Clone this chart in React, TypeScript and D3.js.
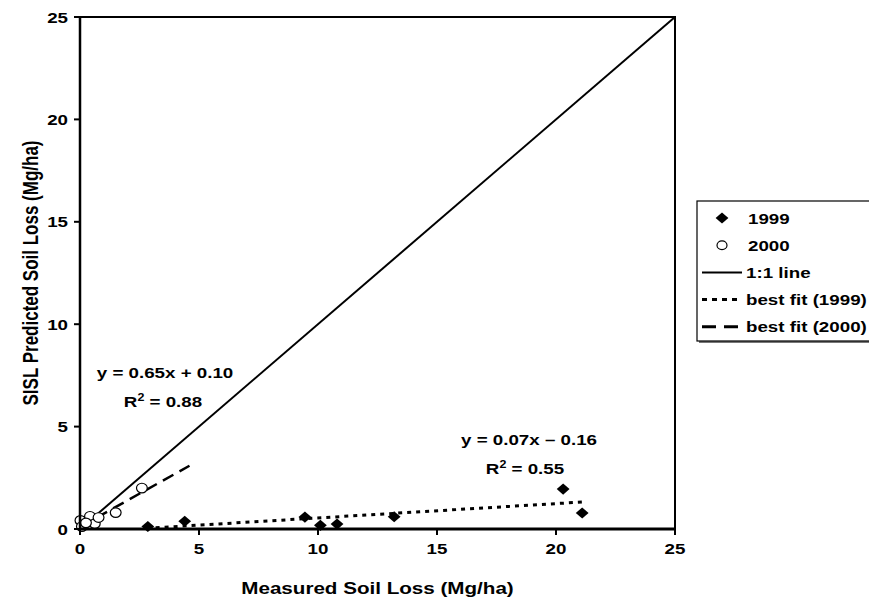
import React from "react";
import * as d3 from "d3";

const xTicks = [0, 5, 10, 15, 20, 25];
const yTicks = [0, 5, 10, 15, 20, 25];
const x1999 = [2.85, 4.4, 9.45, 10.1, 10.8, 13.2, 20.3, 21.1];
const y1999 = [0.12, 0.38, 0.58, 0.18, 0.24, 0.6, 1.95, 0.78];
const x2000 = [0.02, 0.08, 0.42, 0.62, 0.78, 1.5, 2.6, 0.25];
const y2000 = [0.42, 0.12, 0.62, 0.26, 0.56, 0.8, 2.0, 0.3];
const fit1999 = { slope: 0.07, intercept: -0.16, xFrom: 2.8, xTo: 21.1 };
const fit2000 = { slope: 0.65, intercept: 0.1, xFrom: 0, xTo: 4.6 };
const oneToOne = [0, 25];
const legendLabels = ["1999", "2000", "1:1 line", "best fit (1999)", "best fit (2000)"];

const W = 869;
const H = 604;
const FONT = "'Liberation Sans', Arial, Helvetica, sans-serif";
const SX = 1.25;

function T(props: {
  x: number;
  y: number;
  size: number;
  anchor?: "start" | "middle" | "end";
  rotate?: number;
  children: React.ReactNode;
}) {
  const { x, y, size, anchor = "start", rotate = 0, children } = props;
  return (
    <text
      transform={`translate(${x},${y}) scale(${SX},1)${rotate ? ` rotate(${rotate})` : ""}`}
      textAnchor={anchor}
      fontSize={size}
    >
      {children}
    </text>
  );
}

export default function App() {
  const x = d3.scaleLinear().domain([0, 25]).range([80, 675]);
  const y = d3.scaleLinear().domain([0, 25]).range([529, 17]);
  const line = d3
    .line<[number, number]>()
    .x((d) => x(d[0]))
    .y((d) => y(d[1]));
  const diamond = d3.symbol().type(d3.symbolSquare).size(62)() || "";
  const fitPts = (f: typeof fit1999): [number, number][] => [
    [f.xFrom, f.slope * f.xFrom + f.intercept],
    [f.xTo, f.slope * f.xTo + f.intercept],
  ];

  const legX = 697;
  const legTop = 201;
  const rowH = 27.2;
  const rowY = (i: number) => legTop + 17 + i * rowH;

  return (
    <svg
      width={W}
      height={H}
      style={{ position: "absolute", left: 0, top: 0, background: "#fff" }}
      fontFamily={FONT}
      fontWeight="bold"
    >
      {/* plot frame */}
      <rect x={x(0)} y={y(25)} width={x(25) - x(0)} height={y(0) - y(25)} fill="none" stroke="#000" strokeWidth={2} />
      {/* 1:1 line */}
      <path d={line([[oneToOne[0], oneToOne[0]], [oneToOne[1], oneToOne[1]]]) || ""} stroke="#000" strokeWidth={2} fill="none" />
      {/* fits */}
      <path d={line(fitPts(fit1999)) || ""} stroke="#000" strokeWidth={3} strokeDasharray="4,5" fill="none" />
      <path d={line(fitPts(fit2000)) || ""} stroke="#000" strokeWidth={2.5} strokeDasharray="12,7" fill="none" />
      {/* points */}
      {x2000.map((v, i) => (
        <ellipse key={"c" + i} cx={x(v)} cy={y(y2000[i])} rx={5.4} ry={4.8} fill="#fff" stroke="#000" strokeWidth={1.2} />
      ))}
      {x1999.map((v, i) => (
        <path
          key={"d" + i}
          d={diamond}
          transform={`translate(${x(v)},${y(y1999[i])}) scale(1.15,1) rotate(45)`}
          fill="#000"
        />
      ))}
      {/* axes */}
      <line x1={x(0)} x2={x(25)} y1={y(0)} y2={y(0)} stroke="#000" strokeWidth={3} />
      <line x1={x(0)} x2={x(0)} y1={y(0)} y2={y(25)} stroke="#000" strokeWidth={2.5} />
      {xTicks.map((t) => (
        <g key={"xt" + t}>
          <line x1={x(t)} x2={x(t)} y1={y(0)} y2={y(0) + 6} stroke="#000" strokeWidth={2} />
          <T x={x(t)} y={y(0) + 25} size={15} anchor="middle">
            {t}
          </T>
        </g>
      ))}
      {yTicks.map((t) => (
        <g key={"yt" + t}>
          <line x1={x(0) - 6} x2={x(0)} y1={y(t)} y2={y(t)} stroke="#000" strokeWidth={2} />
          <T x={x(0) - 12} y={y(t) + 5.5} size={15} anchor="end">
            {t}
          </T>
        </g>
      ))}
      {/* axis titles */}
      <T x={(x(0) + x(25)) / 2} y={594} size={16.5} anchor="middle">
        Measured Soil Loss (Mg/ha)
      </T>
      <T x={38} y={(y(0) + y(25)) / 2} size={17} anchor="middle" rotate={-90}>
        SISL Predicted Soil Loss (Mg/ha)
      </T>
      {/* annotations */}
      <T x={165} y={378} size={15} anchor="middle">
        y = 0.65x + 0.10
      </T>
      <T x={163} y={407} size={15} anchor="middle">
        R<tspan dy={-6} fontSize={10}>2</tspan>
        <tspan dy={6}> = 0.88</tspan>
      </T>
      <T x={529} y={445} size={15} anchor="middle">
        y = 0.07x – 0.16
      </T>
      <T x={525} y={474} size={15} anchor="middle">
        R<tspan dy={-6} fontSize={10}>2</tspan>
        <tspan dy={6}> = 0.55</tspan>
      </T>
      {/* legend */}
      <rect x={legX + 2} y={legTop + 2} width={W} height={140} fill="#777" />
      <rect x={legX} y={legTop} width={W} height={140} fill="#fff" stroke="#000" strokeWidth={1.2} />
      {legendLabels.map((lab, i) => {
        const cy = rowY(i);
        let sym: React.ReactNode = null;
        if (i === 0)
          sym = <path d={diamond} transform={`translate(722,${cy}) scale(1.15,1) rotate(45)`} fill="#000" />;
        else if (i === 1)
          sym = <ellipse cx={722} cy={cy} rx={5} ry={4.4} fill="#fff" stroke="#000" strokeWidth={1.2} />;
        else
          sym = (
            <line
              x1={702}
              x2={742}
              y1={cy}
              y2={cy}
              stroke="#000"
              strokeWidth={i === 2 ? 2 : 3}
              strokeDasharray={i === 3 ? "5,5" : i === 4 ? "14,8" : undefined}
            />
          );
        return (
          <g key={lab}>
            {sym}
            <T x={i < 2 ? 748 : 746} y={cy + 5.5} size={15}>
              {lab}
            </T>
          </g>
        );
      })}
    </svg>
  );
}
